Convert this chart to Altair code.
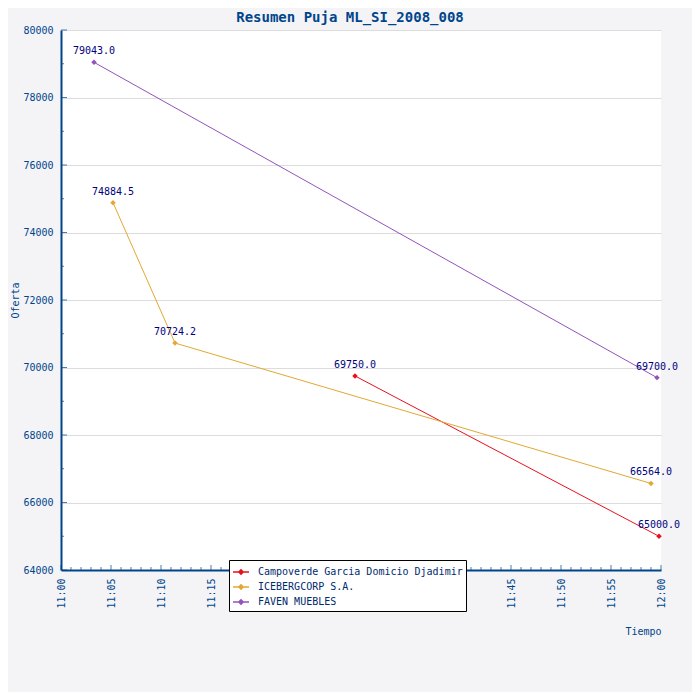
import altair as alt
import pandas as pd

bidders = ["Campoverde Garcia Domicio Djadimir", "ICEBERGCORP S.A.", "FAVEN MUEBLES"]
colors = ["#e8101c", "#e2a832", "#9452bc"]

campoverde_times = ["11:29:24", "11:59:48"]
campoverde_bids = [69750.0, 65000.0]
iceberg_times = ["11:05:12", "11:11:24", "11:59:00"]
iceberg_bids = [74884.5, 70724.2, 66564.0]
faven_times = ["11:03:18", "11:59:36"]
faven_bids = [79043.0, 69700.0]

y_tick_values = [64000, 66000, 68000, 70000, 72000, 74000, 76000, 78000, 80000]
y_minor_values = [65000, 67000, 69000, 71000, 73000, 75000, 77000, 79000]
x_label_minutes = [0, 5, 10, 15, 20, 25, 30, 35, 40, 45, 50, 55, 60]

DAY = "2008-01-01T"
BLUE = "#00458c"
FONT = "DejaVu Sans Mono"


def stamp(minute):
    h, m = (12, 0) if minute == 60 else (11, minute)
    return alt.DateTime(year=2008, month=1, date=1, hours=h, minutes=m)


rows = []
for name, times, bids in [(bidders[0], campoverde_times, campoverde_bids),
                          (bidders[1], iceberg_times, iceberg_bids),
                          (bidders[2], faven_times, faven_bids)]:
    for i, (t, b) in enumerate(zip(times, bids)):
        rows.append({"bidder": name, "time": DAY + t, "bid": b, "order": i})
df = pd.DataFrame(rows)

minor_minutes = [m for m in range(61) if m % 5 != 0]
xt_major = pd.DataFrame({"time": [DAY + ("12:00:00" if m == 60 else f"11:{m:02d}:00") for m in x_label_minutes],
                         "bid": 64000})
xt_minor = pd.DataFrame({"time": [DAY + f"11:{m:02d}:00" for m in minor_minutes], "bid": 64000})
yt_major = pd.DataFrame({"time": DAY + "11:00:00", "bid": y_tick_values})
yt_minor = pd.DataFrame({"time": DAY + "11:00:00", "bid": y_minor_values})

x_enc = alt.X(
    "time:T",
    scale=alt.Scale(domain=[stamp(0), stamp(60)]),
    axis=alt.Axis(values=[stamp(m) for m in x_label_minutes], format="%H:%M", labelAngle=270,
                  ticks=False, grid=False, domainColor=BLUE, domainWidth=2,
                  labelFont=FONT, labelFontSize=10, labelColor=BLUE, labelPadding=8,
                  title="Tiempo", titleX=600, titleY=56, titleAlign="right",
                  titleFont=FONT, titleFontSize=10, titleFontWeight="normal", titleColor=BLUE),
)
y_enc = alt.Y(
    "bid:Q",
    scale=alt.Scale(domain=[64000, 80000], nice=False, zero=False),
    axis=alt.Axis(values=y_tick_values, format="d", ticks=False, grid=True, gridColor="#dcdcdc",
                  domainColor=BLUE, domainWidth=2, labelFont=FONT, labelFontSize=10,
                  labelColor=BLUE, labelPadding=8,
                  title="Oferta", titleX=-41, titleY=270, titleAngle=270,
                  titleFont=FONT, titleFontSize=10, titleFontWeight="normal", titleColor=BLUE),
)
color_enc = alt.Color(
    "bidder:N",
    scale=alt.Scale(domain=bidders, range=colors),
    legend=alt.Legend(title=None, orient="none", legendX=168, legendY=530,
                      fillColor="white", strokeColor="black", padding=3,
                      symbolType="M-1,0L1,0M0,-0.27L0.27,0L0,0.27L-0.27,0Z",
                      symbolSize=256, symbolStrokeWidth=1.5, symbolOffset=0,
                      labelFont=FONT, labelFontSize=10, labelColor="#002a6e", labelLimit=400,
                      labelOffset=8, rowPadding=0),
)

lines = alt.Chart(df).mark_line(strokeWidth=1).encode(x=x_enc, y=y_enc, color=color_enc, order="order")
points = alt.Chart(df).mark_point(shape="diamond", filled=True, size=30, opacity=1).encode(
    x=x_enc, y=y_enc, color=color_enc)
labels = alt.Chart(df).mark_text(dy=-11, font=FONT, fontSize=10, color="#000080").encode(
    x=x_enc, y=y_enc, text=alt.Text("bid:Q", format=".1f"))

tick_x_major = alt.Chart(xt_major).mark_tick(orient="vertical", size=5, yOffset=-2.5,
                                             thickness=1, color=BLUE).encode(x=x_enc, y=y_enc)
tick_x_minor = alt.Chart(xt_minor).mark_tick(orient="vertical", size=3, yOffset=-1.5,
                                             thickness=1, color=BLUE).encode(x=x_enc, y=y_enc)
tick_y_major = alt.Chart(yt_major).mark_tick(orient="horizontal", size=6, xOffset=3,
                                             thickness=1, color=BLUE).encode(x=x_enc, y=y_enc)
tick_y_minor = alt.Chart(yt_minor).mark_tick(orient="horizontal", size=3, xOffset=1.5,
                                             thickness=1, color=BLUE).encode(x=x_enc, y=y_enc)

chart = alt.layer(
    lines, points, labels, tick_x_major, tick_x_minor, tick_y_major, tick_y_minor
).properties(
    width=600,
    height=540,
    title=alt.TitleParams("Resumen Puja ML_SI_2008_008", font=FONT, fontSize=14, fontWeight="bold",
                          color=BLUE, offset=0, dx=-11),
    autosize=alt.AutoSizeParams(type="none"),
    padding={"left": 53, "top": 22, "right": 31, "bottom": 122},
    background="#f4f4f6",
).configure_view(fill="white", strokeWidth=0)

chart.save("out.html", embed_options={"renderer": "svg", "actions": False})
